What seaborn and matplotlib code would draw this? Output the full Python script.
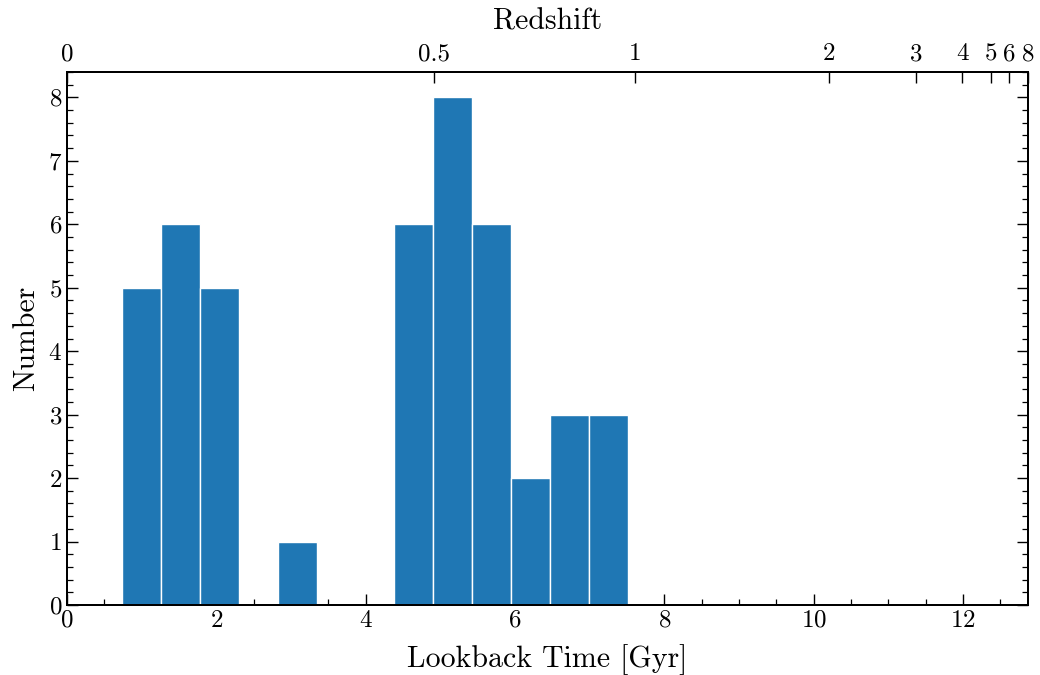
import numpy as np
import pandas as pd
import matplotlib
matplotlib.use("Agg")
import matplotlib.pyplot as plt
from matplotlib.ticker import MultipleLocator, NullLocator
import seaborn as sns

# Histogram data (lookback time bins in Gyr, counts per bin)
bin_edges = [0.737, 1.258, 1.779, 2.300, 2.821, 3.342, 3.863, 4.384,
             4.905, 5.426, 5.947, 6.468, 6.989, 7.510]
counts = [5, 6, 5, 0, 1, 0, 0, 6, 8, 6, 2, 3, 3]

# Secondary (redshift) axis: labels and the lookback times they sit at
redshift_labels = ["0", "0.5", "1", "2", "3", "4", "5", "6", "8"]
redshift_lookback = [0.0, 4.91, 7.61, 10.21, 11.375, 11.99, 12.37, 12.62, 12.87]

sns.set_theme(style="ticks", rc={
    "text.color": "black", "axes.labelcolor": "black",
    "xtick.color": "black", "ytick.color": "black",
    "axes.edgecolor": "black",
})
plt.rcParams["font.family"] = "serif"
plt.rcParams["font.serif"] = ["cmr10"]
plt.rcParams["mathtext.fontset"] = "cm"
plt.rcParams["axes.formatter.use_mathtext"] = True
plt.rcParams["axes.unicode_minus"] = False

centers = [(bin_edges[i] + bin_edges[i + 1]) / 2 for i in range(len(counts))]
df = pd.DataFrame({"lookback": centers, "n": counts})

fig = plt.figure(figsize=(10.4, 6.75), dpi=100)
ax = fig.add_axes([0.0644, 0.1037, 0.9241, 0.7896])

sns.histplot(data=df, x="lookback", weights="n", bins=bin_edges, ax=ax,
             color="#1f77b4", alpha=1.0, edgecolor="white", linewidth=1.0)

ax.set_xlim(0, redshift_lookback[-1])
ax.set_ylim(0, 8.4)
ax.set_xlabel("Lookback Time [Gyr]", fontsize=21.5, labelpad=9)
ax.set_ylabel("Number", fontsize=21.5, labelpad=6)
ax.xaxis.set_major_locator(MultipleLocator(2))
ax.xaxis.set_minor_locator(MultipleLocator(0.5))
ax.yaxis.set_major_locator(MultipleLocator(1))
ax.yaxis.set_minor_locator(MultipleLocator(0.2))
ax.tick_params(which="both", direction="in", right=True, top=False,
               labelsize=18, width=1.0, color="black")
ax.tick_params(which="major", length=8)
ax.tick_params(which="minor", length=4, width=0.9)
for s in ax.spines.values():
    s.set_linewidth(1.4)
    s.set_visible(True)
    s.set_color("black")

ax2 = ax.twiny()
ax2.set_xlim(ax.get_xlim())
ax2.set_xticks(redshift_lookback)
ax2.set_xticklabels(redshift_labels)
ax2.xaxis.set_minor_locator(NullLocator())
ax2.tick_params(axis="x", which="major", direction="in", length=8, width=1.0,
                labelsize=18, pad=5)
ax2.set_xlabel("Redshift", fontsize=21.5, labelpad=10)
for s in ax2.spines.values():
    s.set_linewidth(1.4)
    s.set_color("black")

fig.savefig("out.png", dpi=100)
